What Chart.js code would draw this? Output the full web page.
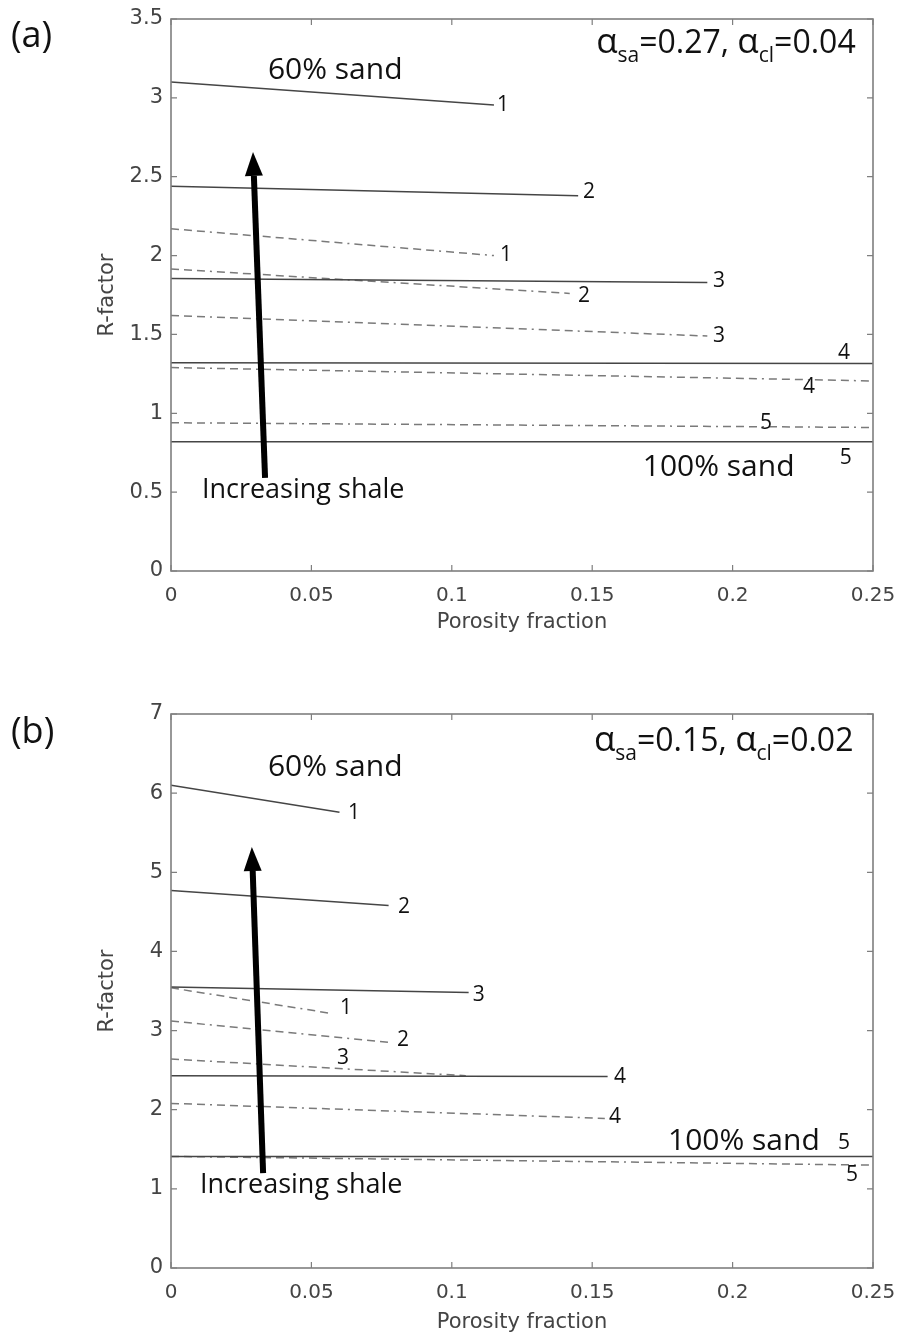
<!DOCTYPE html>
<html>
<head>
<meta charset="utf-8">
<script src="https://cdn.jsdelivr.net/npm/chart.js@4.4.1/dist/chart.umd.min.js"></script>
<style>
  html, body { margin: 0; padding: 0; background: #fff; }
  body { width: 897px; height: 1335px; position: relative; overflow: hidden; }
  .panel { position: absolute; left: 0; width: 897px; }
  #wrapA { top: 0; height: 635px; }
  #wrapB { top: 680px; height: 655px; }
</style>
</head>
<body>
<div class="panel" id="wrapA"><canvas id="chartA" width="897" height="635"></canvas></div>
<div class="panel" id="wrapB"><canvas id="chartB" width="897" height="655"></canvas></div>
<script>
// tick labels
const xTicks = [0, 0.05, 0.1, 0.15, 0.2, 0.25];
const yTicksA = [0, 0.5, 1, 1.5, 2, 2.5, 3, 3.5];
const yTicksB = [0, 1, 2, 3, 4, 5, 6, 7];

// panel (a) - every curve starts at porosity 0, curves 1..5
const solidStartA = [3.10, 2.44, 1.855, 1.32, 0.82];
const solidEndA   = [2.955, 2.38, 1.83, 1.315, 0.82];
const solidEndXA  = [0.115, 0.145, 0.191, 0.25, 0.25];
const dashStartA  = [2.17, 1.915, 1.62, 1.29, 0.94];
const dashEndA    = [2.00, 1.76, 1.49, 1.205, 0.91];
const dashEndXA   = [0.115, 0.142, 0.191, 0.25, 0.25];

// panel (b)
const solidStartB = [6.10, 4.77, 3.55, 2.43, 1.41];
const solidEndB   = [5.76, 4.58, 3.48, 2.42, 1.41];
const solidEndXB  = [0.060, 0.0775, 0.106, 0.1555, 0.25];
const dashStartB  = [3.54, 3.12, 2.64, 2.08, 1.41];
const dashEndB    = [3.22, 2.85, 2.43, 1.89, 1.30];
const dashEndXB   = [0.0565, 0.078, 0.105, 0.1545, 0.25];

// curve numbers (text, porosity, R-factor)
const numTextA = ['1', '2', '1', '3', '2', '3', '4', '4', '5', '5'];
const numXA = [0.1161, 0.1467, 0.1172, 0.1930, 0.1449, 0.1930, 0.2375, 0.2251, 0.2098, 0.2382];
const numYA = [2.955, 2.403, 2.004, 1.839, 1.744, 1.490, 1.382, 1.167, 0.938, 0.717];
const numTextB = ['1', '2', '3', '1', '2', '3', '4', '4', '5', '5'];
const numXB = [0.0630, 0.0808, 0.1075, 0.0602, 0.0805, 0.0591, 0.1578, 0.1560, 0.2375, 0.2404];
const numYB = [5.749, 4.561, 3.450, 3.285, 2.881, 2.653, 2.413, 1.908, 1.579, 1.175];

// annotations
const noteText = ['60% sand', '100% sand', 'Increasing shale'];
const noteSize = [30, 30, 27];
const noteXA = [0.0345, 0.168, 0.011];
const noteYA = [3.12, 0.602, 0.463];
const noteXB = [0.0345, 0.177, 0.0103];
const noteYB = [6.22, 1.49, 0.948];

const TICK_FONT = 'DejaVu Sans';
const NOTE_FONT = 'Open Sans';

function lineSets(starts, ends, endXs, dashed) {
    return starts.map((s, i) => ({
        data: [{ x: 0, y: s }, { x: endXs[i], y: ends[i] }],
        showLine: true,
        pointRadius: 0,
        borderWidth: 1.5,
        borderColor: dashed ? '#7a7a7a' : '#454545',
        borderDash: dashed ? [8, 5, 8, 5, 8, 5, 2, 5] : [],
        fill: false,
    }));
}

function drawRich(ctx, parts, x, y) {
    parts.forEach(p => {
        if (p.t === 'α') ctx.font = '35px "' + NOTE_FONT + '"';
        else ctx.font = (p.sub ? '21px ' : '32px ') + '"' + NOTE_FONT + '"';
        ctx.fillText(p.t, x, y + (p.sub ? 9 : 0));
        x += ctx.measureText(p.t).width;
    });
}

const decorPlugin = {
    id: 'decor',
    afterDatasetsDraw(chart, args, opts) {
        const { ctx, chartArea: a, scales: { x, y } } = chart;
        ctx.save();

        // frame with inward ticks on all sides
        ctx.strokeStyle = '#7f7f7f';
        ctx.lineWidth = 1.2;
        ctx.beginPath();
        x.ticks.forEach(t => {
            const px = x.getPixelForValue(t.value);
            ctx.moveTo(px, a.bottom); ctx.lineTo(px, a.bottom - 6);
            ctx.moveTo(px, a.top); ctx.lineTo(px, a.top + 6);
        });
        y.ticks.forEach(t => {
            const py = y.getPixelForValue(t.value);
            ctx.moveTo(a.left, py); ctx.lineTo(a.left + 6, py);
            ctx.moveTo(a.right, py); ctx.lineTo(a.right - 6, py);
        });
        ctx.stroke();
        ctx.lineWidth = 1.6;
        ctx.strokeRect(a.left, a.top, a.width, a.height);

        // arrow "Increasing shale"
        const x0 = x.getPixelForValue(opts.arrow[0]), y0 = y.getPixelForValue(opts.arrow[1]);
        const x1 = x.getPixelForValue(opts.arrow[2]), y1 = y.getPixelForValue(opts.arrow[3]);
        const ang = Math.atan2(y1 - y0, x1 - x0);
        const headLen = 24, headW = 9;
        const bx = x1 - headLen * Math.cos(ang), by = y1 - headLen * Math.sin(ang);
        ctx.strokeStyle = '#000';
        ctx.fillStyle = '#000';
        ctx.lineWidth = 6;
        ctx.beginPath();
        ctx.moveTo(x0, y0); ctx.lineTo(bx, by);
        ctx.stroke();
        ctx.beginPath();
        ctx.moveTo(x1, y1);
        ctx.lineTo(bx + headW * Math.sin(ang), by - headW * Math.cos(ang));
        ctx.lineTo(bx - headW * Math.sin(ang), by + headW * Math.cos(ang));
        ctx.closePath();
        ctx.fill();

        // notes
        ctx.fillStyle = '#111';
        ctx.textAlign = 'left';
        ctx.textBaseline = 'alphabetic';
        noteText.forEach((t, i) => {
            ctx.font = noteSize[i] + 'px "' + NOTE_FONT + '"';
            ctx.fillText(t, x.getPixelForValue(opts.noteX[i]), y.getPixelForValue(opts.noteY[i]));
        });
        drawRich(ctx, opts.alpha, x.getPixelForValue(opts.alphaAt[0]), y.getPixelForValue(opts.alphaAt[1]));

        // curve numbers
        ctx.font = '21px "' + NOTE_FONT + '"';
        ctx.textBaseline = 'middle';
        opts.numText.forEach((t, i) => {
            ctx.fillText(t, x.getPixelForValue(opts.numX[i]), y.getPixelForValue(opts.numY[i]));
        });

        // panel letter
        ctx.font = '36px "' + NOTE_FONT + '"';
        ctx.fillText(opts.letter, 11, opts.letterY);
        ctx.restore();
    }
};

function makePanel(id, cfg) {
    return new Chart(document.getElementById(id), {
        type: 'scatter',
        data: {
            datasets: [
                ...lineSets(cfg.solidStart, cfg.solidEnd, cfg.solidEndX, false),
                ...lineSets(cfg.dashStart, cfg.dashEnd, cfg.dashEndX, true),
            ]
        },
        plugins: [decorPlugin],
        options: {
            responsive: false,
            animation: false,
            devicePixelRatio: 1,
            layout: { padding: { left: 95, top: cfg.padTop, right: 24, bottom: 0 } },
            plugins: {
                legend: { display: false },
                tooltip: { enabled: false },
                decor: cfg.decor,
            },
            scales: {
                x: {
                    type: 'linear',
                    min: 0,
                    max: 0.25,
                    afterBuildTicks: s => { s.ticks = xTicks.map(v => ({ value: v })); },
                    afterFit: s => { s.height = cfg.xHeight; s.paddingLeft = 0; s.paddingRight = 0; },
                    grid: { display: false, drawTicks: false },
                    border: { display: false },
                    ticks: {
                        color: '#444', padding: 13, maxRotation: 0, autoSkip: false,
                        font: { family: TICK_FONT, size: 20 },
                        callback: v => String(v),
                    },
                    title: {
                        display: true, text: 'Porosity fraction', color: '#444', padding: 0,
                        font: { family: TICK_FONT, size: 21 },
                    },
                },
                y: {
                    type: 'linear',
                    min: 0,
                    max: cfg.yTicks[cfg.yTicks.length - 1],
                    afterBuildTicks: s => { s.ticks = cfg.yTicks.map(v => ({ value: v })); },
                    afterFit: s => { s.width = 76; s.paddingTop = 0; s.paddingBottom = 0; },
                    grid: { display: false, drawTicks: false },
                    border: { display: false },
                    ticks: {
                        color: '#444', padding: 8, autoSkip: false,
                        font: { family: TICK_FONT, size: 21 },
                        callback: v => String(v),
                    },
                    title: {
                        display: true, text: 'R-factor', color: '#444', padding: 0,
                        font: { family: TICK_FONT, size: 21 },
                    },
                },
            },
        },
    });
}

makePanel('chartA', {
    solidStart: solidStartA, solidEnd: solidEndA, solidEndX: solidEndXA,
    dashStart: dashStartA, dashEnd: dashEndA, dashEndX: dashEndXA,
    yTicks: yTicksA, padTop: 19, xHeight: 64,
    decor: {
        noteX: noteXA, noteY: noteYA,
        numText: numTextA, numX: numXA, numY: numYA,
        arrow: [0.0335, 0.59, 0.0292, 2.657],
        alpha: [{ t: 'α' }, { t: 'sa', sub: true }, { t: '=0.27, ' }, { t: 'α' }, { t: 'cl', sub: true }, { t: '=0.04' }],
        alphaAt: [0.1514, 3.285],
        letter: '(a)', letterY: 37,
    },
});

makePanel('chartB', {
    solidStart: solidStartB, solidEnd: solidEndB, solidEndX: solidEndXB,
    dashStart: dashStartB, dashEnd: dashEndB, dashEndX: dashEndXB,
    yTicks: yTicksB, padTop: 34, xHeight: 67,
    decor: {
        noteX: noteXB, noteY: noteYB,
        numText: numTextB, numX: numXB, numY: numYB,
        arrow: [0.0328, 1.20, 0.0288, 5.32],
        alpha: [{ t: 'α' }, { t: 'sa', sub: true }, { t: '=0.15, ' }, { t: 'α' }, { t: 'cl', sub: true }, { t: '=0.02' }],
        alphaAt: [0.1506, 6.53],
        letter: '(b)', letterY: 53,
    },
});
</script>
</body>
</html>
